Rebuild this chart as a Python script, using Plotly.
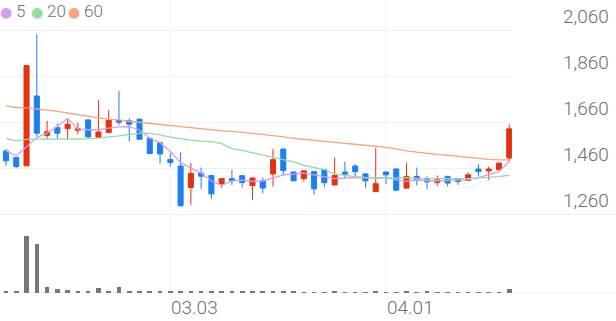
import plotly.graph_objects as go

dates = ["02.07", "02.10", "02.11", "02.12", "02.13", "02.14", "02.17", "02.18", "02.19", "02.20",
         "02.21", "02.24", "02.25", "02.26", "02.27", "02.28", "03.03", "03.04", "03.05", "03.06",
         "03.07", "03.10", "03.11", "03.12", "03.13", "03.14", "03.17", "03.18", "03.19", "03.20",
         "03.21", "03.24", "03.25", "03.26", "03.27", "03.28", "03.31", "04.01", "04.02", "04.03",
         "04.04", "04.07", "04.08", "04.09", "04.10", "04.11", "04.14", "04.15", "04.16", "04.17"]

open_ = [1538, 1509, 1473, 1777, 1606, 1640, 1635, 1628, 1673, 1598,
         1618, 1670, 1669, 1676, 1593, 1573, 1500, 1472, 1379, 1441,
         1431, 1396, 1417, 1430, 1387, 1408, 1438, 1546, 1446, 1417,
         1448, 1456, 1390, 1446, 1472, 1438, 1361, 1446, 1459, 1376,
         1427, 1412, 1400, 1427, 1417, 1409, 1459, 1451, 1456, 1507]
high = [1547, 1512, 1910, 2046, 1669, 1657, 1676, 1661, 1675, 1759,
        1715, 1799, 1680, 1680, 1595, 1579, 1528, 1531, 1485, 1466,
        1432, 1418, 1456, 1432, 1422, 1422, 1547, 1548, 1448, 1453,
        1450, 1458, 1509, 1492, 1480, 1440, 1550, 1448, 1461, 1485,
        1466, 1427, 1431, 1430, 1418, 1444, 1480, 1470, 1487, 1654]
low = [1474, 1463, 1472, 1600, 1590, 1590, 1590, 1611, 1590, 1596,
       1615, 1651, 1579, 1587, 1525, 1482, 1470, 1297, 1303, 1372,
       1328, 1376, 1390, 1379, 1325, 1354, 1383, 1434, 1405, 1405,
       1347, 1379, 1388, 1417, 1420, 1376, 1360, 1393, 1365, 1374,
       1387, 1372, 1387, 1383, 1390, 1407, 1427, 1412, 1454, 1492]
close = [1495, 1470, 1909, 1615, 1621, 1615, 1654, 1634, 1599, 1620,
         1672, 1663, 1654, 1589, 1527, 1525, 1487, 1299, 1440, 1428,
         1351, 1417, 1408, 1400, 1420, 1376, 1500, 1453, 1408, 1451,
         1373, 1400, 1431, 1437, 1448, 1408, 1395, 1434, 1367, 1427,
         1412, 1403, 1412, 1398, 1405, 1434, 1448, 1459, 1485, 1634]
volume = [130, 130, 5700, 4870, 570, 430, 270, 200, 200, 500,
          230, 600, 230, 230, 230, 200, 200, 230, 130, 130,
          130, 130, 130, 130, 170, 130, 170, 130, 130, 100,
          100, 100, 200, 100, 100, 100, 170, 100, 100, 130,
          100, 130, 100, 100, 100, 100, 100, 100, 100, 400]
ma5 = [1538, 1517, 1556, 1596, 1615, 1644, 1680, 1633, 1630, 1630,
       1637, 1643, 1644, 1628, 1593, 1574, 1535, 1487, 1463, 1441,
       1408, 1387, 1408, 1411, 1405, 1408, 1420, 1434, 1437, 1441,
       1434, 1427, 1417, 1420, 1422, 1422, 1420, 1422, 1412, 1405,
       1412, 1408, 1408, 1410, 1410, 1412, 1422, 1434, 1448, 1492]
ma20 = [1593, 1582, 1588, 1590, 1590, 1589, 1589, 1590, 1591, 1594,
        1597, 1603, 1610, 1614, 1614, 1608, 1598, 1590, 1585, 1581,
        1578, 1570, 1548, 1540, 1530, 1520, 1512, 1500, 1490, 1475,
        1466, 1457, 1437, 1430, 1426, 1423, 1421, 1420, 1421, 1422,
        1418, 1417, 1417, 1417, 1417, 1417, 1419, 1422, 1426, 1432]
ma60 = [1734, 1727, 1725, 1721, 1715, 1710, 1703, 1697, 1690, 1682,
        1675, 1673, 1667, 1662, 1658, 1653, 1647, 1643, 1638, 1632,
        1629, 1625, 1623, 1620, 1614, 1610, 1606, 1599, 1593, 1588,
        1584, 1580, 1574, 1571, 1567, 1563, 1559, 1553, 1547, 1538,
        1533, 1527, 1523, 1519, 1514, 1511, 1506, 1501, 1499, 1499]

price_ticks = [1260, 1460, 1660, 1860, 2060]
date_ticks = ["03.03", "04.01"]
legend_items = [("5", "#d79cf2"), ("20", "#92dca2"), ("60", "#f7a47f")]

UP = "#e6300f"
DOWN = "#1b7ff2"
TXT = "#6f6f6f"
GRID = "#f1f1f1"
FONT = "Roboto"

x = list(range(len(dates)))

fig = go.Figure()
fig.add_trace(go.Candlestick(
    x=x, open=open_, high=high, low=low, close=close,
    increasing=dict(line=dict(color=UP, width=1), fillcolor=UP),
    decreasing=dict(line=dict(color=DOWN, width=1), fillcolor=DOWN),
    whiskerwidth=0, xaxis="x", yaxis="y", showlegend=False, hoverinfo="skip"))
for vals, (_, col) in zip([ma5, ma20, ma60], legend_items):
    fig.add_trace(go.Scatter(x=x, y=vals, mode="lines", line=dict(color=col, width=1.3),
                             xaxis="x", yaxis="y", showlegend=False, hoverinfo="skip"))
fig.add_trace(go.Bar(x=x, y=volume, marker=dict(color="#777777", line=dict(width=0)),
                     width=0.45, xaxis="x2", yaxis="y2", showlegend=False, hoverinfo="skip"))

W, H = 616, 321
plot_right = 512
px_per = 10.27
x0 = -6 / px_per
x1 = (plot_right - 6) / px_per
price_bottom_px, price_top_px = 215, 20
vol_bottom_px, vol_top_px = 293, 232
ppx = 200 / 46.0

fig.update_layout(
    width=W, height=H, margin=dict(l=0, r=0, t=0, b=0),
    paper_bgcolor="white", plot_bgcolor="white",
    font=dict(family=FONT, color=TXT),
    xaxis=dict(domain=[0, plot_right / W], range=[x0, x1], showgrid=False, zeroline=False,
               showticklabels=False, rangeslider=dict(visible=False), fixedrange=True),
    xaxis2=dict(domain=[0, plot_right / W], range=[x0, x1], showgrid=False, zeroline=False,
                showticklabels=False, anchor="y2"),
    yaxis=dict(domain=[(H - price_bottom_px) / H, (H - price_top_px) / H],
               range=[1259, 1260 + (price_bottom_px - price_top_px) * ppx],
               tickvals=price_ticks, showticklabels=False, showgrid=True, gridcolor=GRID,
               gridwidth=1, zeroline=False),
    yaxis2=dict(domain=[(H - vol_bottom_px) / H, (H - vol_top_px) / H], range=[0, 6100],
                showgrid=False, zeroline=False, showticklabels=False, anchor="x2"),
    bargap=0,
)

shapes = []
for d in date_ticks:
    xi = dates.index(d)
    shapes.append(dict(type="line", xref="x", yref="paper", x0=xi, x1=xi, y0=(H - vol_bottom_px) / H,
                       y1=1, line=dict(color=GRID, width=1), layer="below"))
# pane separators
shapes.append(dict(type="line", xref="paper", yref="y", x0=0, x1=1, y0=1260, y1=1260,
                   line=dict(color="#e8e8e8", width=1), layer="below"))
shapes.append(dict(type="line", xref="paper", yref="y2", x0=0, x1=1, y0=0, y1=0,
                   line=dict(color="#e2e2e2", width=1), layer="below"))
fig.update_layout(shapes=shapes)

ann = []
for t in price_ticks:
    ann.append(dict(xref="paper", yref="y", x=611 / W, y=t, xanchor="right", yanchor="middle",
                    yshift=14, text=f"{t:,}", showarrow=False,
                    font=dict(family=FONT, size=19, color=TXT, weight=300)))
for d in date_ticks:
    ann.append(dict(xref="x", yref="paper", x=dates.index(d), y=(H - 307) / H, xanchor="left",
                    yanchor="middle", xshift=-1, text=d, showarrow=False,
                    font=dict(family=FONT, size=19, color=TXT, weight=300)))
lx = [6, 37, 74]
for (lab, col), xp in zip(legend_items, lx):
    ann.append(dict(xref="paper", yref="paper", x=xp / W, y=(H - 12) / H, xanchor="center",
                    yanchor="middle", text="●", showarrow=False,
                    font=dict(family="DejaVu Sans", size=14, color=col)))
    ann.append(dict(xref="paper", yref="paper", x=(xp + 8) / W, y=(H - 11) / H, xanchor="left",
                    yanchor="middle", text=lab, showarrow=False,
                    font=dict(family=FONT, size=17, color=TXT, weight=300)))
fig.update_layout(annotations=ann)

fig.write_html("out.html", config=dict(displayModeBar=False))
